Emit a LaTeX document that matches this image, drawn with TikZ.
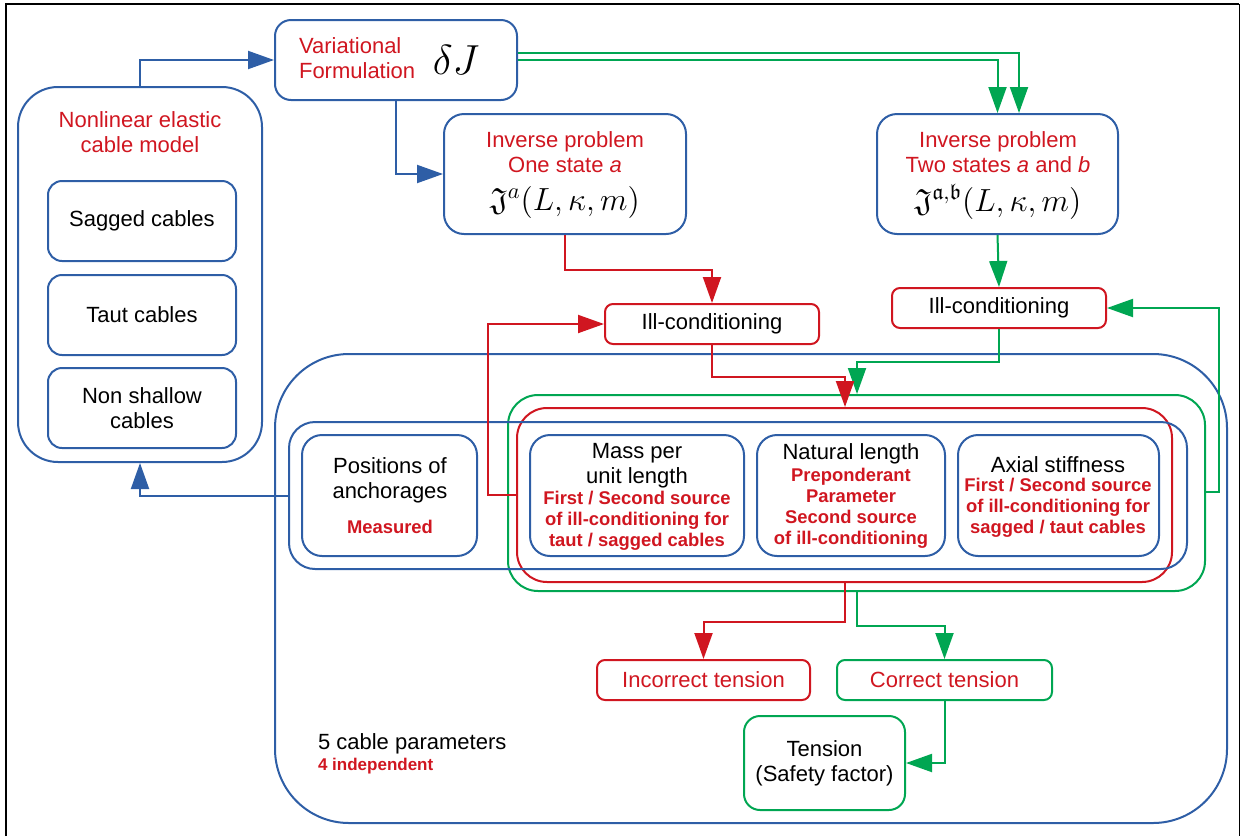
\documentclass[tikz,border=0pt]{standalone}
\usepackage{fix-cm}
\usepackage{amsmath}
\usepackage{amssymb}
\usepackage{fontspec}
\setmainfont{Liberation Sans}
\usetikzlibrary{arrows.meta,fit}

\definecolor{cblue}{RGB}{46,94,166}
\definecolor{cred}{RGB}{208,22,32}
\definecolor{cgreen}{RGB}{0,166,82}

\begin{document}
\begin{tikzpicture}[x=0.5pt, y=-0.5pt, font=\fontsize{11}{12.5}\selectfont,
    bluebox/.style={draw=cblue, line width=1pt, inner sep=0pt, rounded corners=#1},
    bluebox/.default=10pt,
    redbox/.style={draw=cred, line width=1pt, inner sep=0pt, rounded corners=#1},
    redbox/.default=4pt,
    greenbox/.style={draw=cgreen, line width=1pt, inner sep=0pt, rounded corners=#1},
    greenbox/.default=4pt,
    redtxt/.style={text=cred, align=center},
    boldtxt/.style={text=cred, align=center, font=\fontsize{9.2}{10.5}\selectfont\bfseries},
    mathtxt/.style={font=\fontsize{16}{18}\selectfont},
    barrow/.style={draw=cblue, line width=1pt, -{Triangle[length=13pt,width=9pt]}},
    rarrow/.style={draw=cred, line width=1pt, -{Triangle[length=13pt,width=9pt]}},
    garrow/.style={draw=cgreen, line width=1pt, -{Triangle[length=13pt,width=9pt]}}]
    \useasboundingbox (0,0) rectangle (1242,836);
    \draw[line width=1pt] (6,836) -- (6,4) -- (1239,4);
    \draw[line width=0.5pt] (1239,4) -- (1239,836);

    % cable model
    \node[bluebox=20pt, fit={(18,87) (262,462)}] (nonlin) {};
    \node[redtxt] (nonlintxt) at (140,132) {Nonlinear elastic\\cable model};
    \node[bluebox=7pt, fit={(48,181) (236,261)}] (sagged) {};
    \node (saggedtxt) at (sagged) {Sagged cables};
    \node[bluebox=7pt, fit={(48,275) (236,355)}] (taut) {};
    \node (tauttxt) at (taut) {Taut cables};
    \node[bluebox=7pt, fit={(48,368) (236,448)}] (nonshallow) {};
    \node[align=center] (nonshallowtxt) at (nonshallow) {Non shallow\\cables};

    % formulation and inverse problems
    \node[bluebox=8pt, fit={(275,20) (517,100)}] (var) {};
    \node[redtxt, align=left, anchor=west] (vartxt) at (292,58) {Variational\\Formulation};
    \node[font=\fontsize{21}{24}\selectfont] (dj) at (456,60) {$\delta J$};
    \node[bluebox, fit={(444,114) (686,234)}] (inva) {};
    \node[redtxt] (invatxt) at (565,152) {Inverse problem\\One state \textit{a}};
    \node[mathtxt] (invamath) at (565,202) {$\mathfrak{J}^{a}(L,\kappa,m)$};
    \node[bluebox, fit={(877,114) (1118,234)}] (invb) {};
    \node[redtxt] (invbtxt) at (998,152) {Inverse problem\\Two states \textit{a} and \textit{b}};
    \node[mathtxt] (invbmath) at (998,202) {$\mathfrak{J}^{\mathfrak{a},\mathfrak{b}}(L,\kappa,m)$};
    \node[redbox, fit={(605,304) (819,344)}] (illa) {};
    \node (illatxt) at (illa) {Ill-conditioning};
    \node[redbox, fit={(892,288) (1106,328)}] (illb) {};
    \node (illbtxt) at (illb) {Ill-conditioning};

    % cable parameters
    \node[bluebox=37pt, fit={(275,354) (1227,823)}] (params) {};
    \node[greenbox=15pt, fit={(508,395) (1205,591)}] (grn) {};
    \node[redbox=15pt, fit={(517,408) (1172,582)}] (red) {};
    \node[bluebox=13pt, fit={(289,422) (1187,569)}] (row) {};
    \node[bluebox, fit={(302,435) (477,556)}] (pos) {};
    \node[align=center] (postxt) at (390,480) {Positions of\\anchorages};
    \node[boldtxt] (posmeas) at (390,527) {Measured};
    \node[bluebox, fit={(530,435) (744,556)}] (mass) {};
    \node[align=center] (masstxt) at (637,466) {Mass per\\unit length};
    \node[boldtxt] (massinfo) at (637,521) {First / Second source\\of ill-conditioning for\\taut / sagged cables};
    \node[bluebox, fit={(757,435) (945,556)}] (natlen) {};
    \node (natlentxt) at (851,454) {Natural length};
    \node[boldtxt] (natleninfo) at (851,508) {Preponderant\\Parameter\\Second source\\of ill-conditioning};
    \node[bluebox, fit={(958,435) (1159,556)}] (axial) {};
    \node (axialtxt) at (1058,465) {Axial stiffness};
    \node[boldtxt] (axialinfo) at (1058,508) {First / Second source\\of ill-conditioning for\\sagged / taut cables};
    \node[anchor=west] (ncab) at (311,744) {5 cable parameters};
    \node[boldtxt, anchor=west, font=\fontsize{8.5}{10}\selectfont\bfseries] (nind) at (311,766) {4 independent};

    % tension
    \node[redbox, fit={(597,660) (810,700)}] (incor) {};
    \node[text=cred] (incortxt) at (incor) {Incorrect tension};
    \node[greenbox, fit={(837,660) (1052,700)}] (cor) {};
    \node[text=cred] (cortxt) at (cor) {Correct tension};
    \node[greenbox=8pt, fit={(744,716) (905,810)}] (tension) {};
    \node[align=center] (tensiontxt) at (tension) {Tension\\(Safety factor)};

    % connectors
    \draw[barrow] (nonlin.north) |- (var.west);
    \draw[barrow] (var.south) |- (inva.west);
    \draw[barrow] (row.west) -| (nonlin.south);
    \draw[garrow] (var.east |- 0,53) -| (invb.north -| 1019,0);
    \draw[garrow] (var.east) -| (invb.north);
    \draw[garrow] (invb.south) -- (illb.north);
    \draw[rarrow] (inva.south) -- ++(0,35) -| (illa.north);
    \draw[rarrow] (red.west |- 0,495) -- ++(-28,0) |- (illa.west);
    \draw[garrow] (illb.south) -- ++(0,33) -| (grn.north -| 857,0);
    \draw[rarrow] (illa.south) -- ++(0,32) -| (red.north -| 845,0);
    \draw[garrow] (grn.east |- 0,492) -- ++(13,0) |- (illb.east);
    \draw[rarrow] (red.south -| 845,0) -- ++(0,39) -| (incor.north);
    \draw[garrow] (grn.south -| 857,0) -- ++(0,34) -| (cor.north);
    \draw[garrow] (cor.south) |- (tension.east);
\end{tikzpicture}
\end{document}
